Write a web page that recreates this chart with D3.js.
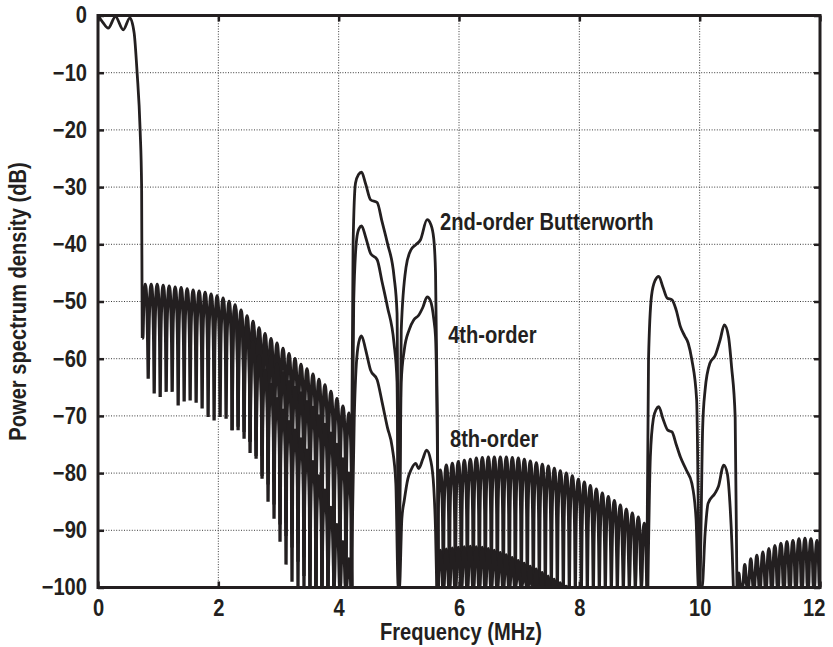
<!DOCTYPE html>
<meta charset="utf-8">
<title>Power spectrum density</title>
<style>
  body { margin: 0; background: #fff; }
  text {
    font-family: "Liberation Sans", Arial, sans-serif;
    font-weight: bold;
    fill: #231f20;
  }
</style>
<body>
  <div id="container"></div>
  <script src="https://cdn.jsdelivr.net/npm/d3@7/dist/d3.min.js"></script>
  <script>

    const width = 833;
    const height = 647;
    const ink = "#231f20";

    // axes
    const xTicks = [0, 2, 4, 6, 8, 10, 12];
    const yTicks = [0, -10, -20, -30, -40, -50, -60, -70, -80, -90, -100];

    // main lobe, same for every filter order
    const passF  = [0, 0.08, 0.17, 0.29, 0.42, 0.53, 0.6, 0.65, 0.7, 0.725, 0.735];
    const passDb = [0, -1.2, -2.2, -0.2, -2.5, -0.4, -3, -10, -20, -30, -56.4];

    // first sidelobe comb (0.735 - 4.22 MHz)
    const comb1Band = [0.735, 4.22];
    const comb1Peaks = [-47, -47, -47, -47.2, -47.3, -47.5, -47.6, -47.8, -48, -48.2,
      -48.4, -48.7, -49, -49.4, -50, -50.6, -51.5, -52.5, -53.5, -54.6,
      -55.6, -56.5, -57.3, -58.2, -59.1, -60, -61, -61.8, -62.7, -63.6,
      -64.6, -65.7, -67, -68.3, -69.5];
    const comb1Troughs = [-56.4, -63.5, -66.1, -66.7, -65.8, -65.8, -68.2, -67.5, -67.3, -67.7,
      -68.7, -70.2, -70.8, -70.2, -70.5, -72.5, -71.9, -72.8, -74.5, -74.3,
      -77, -80, -81.6, -84.8, -88.7, -90.6, -92.3, -94.7, -97, -100,
      -100, -100, -100, -100, -100, -100];

    // 4th-order lobes where they leave the 2nd-order ones
    const comb1b4Band = [2.528, 4.22];
    const comb1b4Peaks = [-54.5, -56, -57.5, -59.5, -61, -62.5, -64, -65, -66, -67.5,
      -68.5, -70, -71.5, -73, -75, -77.5, -80];
    const comb1b4Troughs = [-74.5, -77.5, -80.5, -82, -85.5, -89, -91, -93, -95.5, -98,
      -100, -100, -100, -100, -100, -100, -100, -100];

    // 8th-order lobes
    const comb1b8Band = [2.229, 4.22];
    const comb1b8Peaks = [-51, -52.5, -54.5, -57, -59.5, -62, -64.5, -67, -69, -71,
      -72.5, -74, -76, -78, -80.5, -83, -86, -89, -92, -95];
    const comb1b8Troughs = [-72.5, -72.5, -74, -76.5, -77, -81, -85, -88, -92, -96,
      -99, -100, -100, -100, -100, -100, -100, -100, -100, -100, -100];

    // first image band (4.2 - 5.66 MHz)
    const img1F2  = [4.2, 4.24, 4.28, 4.33, 4.38, 4.45, 4.53, 4.64, 4.72, 4.81, 4.92, 4.97, 5.0,
      5.04, 5.12, 5.2, 5.28, 5.36, 5.47, 5.53, 5.58, 5.61, 5.64, 5.66];
    const img1Db2 = [-100, -40, -29.3, -27.8, -27.4, -29.5, -32.2, -32.7, -36, -39.8, -45.6, -52, -100,
      -55, -44, -41, -40.1, -39.2, -35.7, -36.5, -39, -45, -70, -100];
    const img1F4  = [4.21, 4.25, 4.3, 4.34, 4.38, 4.45, 4.53, 4.64, 4.72, 4.81, 4.92, 4.97, 5.0,
      5.04, 5.09, 5.17, 5.25, 5.33, 5.4, 5.47, 5.53, 5.58, 5.61, 5.64, 5.66];
    const img1Db4 = [-100, -50, -39, -37.2, -36.8, -38.8, -41.6, -42.7, -46.5, -50.9, -57.3, -64, -100,
      -64, -58.5, -55, -53.2, -52.4, -51, -49.2, -50, -53, -56.2, -75, -100];
    const img1F8  = [4.21, 4.26, 4.3, 4.35, 4.38, 4.45, 4.53, 4.64, 4.72, 4.81, 4.89, 4.95, 4.99,
      5.01, 5.05, 5.09, 5.15, 5.2, 5.28, 5.33, 5.4, 5.46, 5.53, 5.58, 5.61, 5.63];
    const img1Db8 = [-100, -70, -60, -56.5, -56, -58.5, -62, -63.7, -67.5, -72, -75.5, -81.8, -100,
      -100, -88, -84.8, -81, -79.5, -78.3, -79.2, -77.5, -76, -77.8, -82.4, -90, -100];

    // second sidelobe comb (5.64 - 9.13 MHz), troughs on the floor
    const comb2Band = [5.64, 9.13];
    const comb2Peaks = [-79.5, -78.6, -78.3, -78, -77.8, -77.6, -77.4, -77.3, -77.2, -77.2,
      -77.2, -77.2, -77.3, -77.4, -77.6, -77.9, -78.2, -78.5, -78.8, -79.2,
      -79.6, -80, -80.5, -81.1, -81.6, -82.2, -82.8, -83.5, -84.1, -84.8,
      -85.6, -86.3, -87, -87.7, -88.8];
    const comb2bBand = [5.64, 7.83];
    const comb2bPeaks = [-93.5, -93.3, -93.1, -93, -92.9, -92.8, -92.9, -93, -93.2, -93.5,
      -93.9, -94.3, -94.8, -95.3, -95.8, -96.3, -96.8, -97.4, -98, -98.6,
      -99.2, -99.8];

    // second image band (9.12 - 10.62 MHz)
    const img2F2  = [9.12, 9.15, 9.2, 9.26, 9.32, 9.39, 9.46, 9.54, 9.61, 9.68, 9.75, 9.81, 9.87, 9.95, 10.0,
      10.05, 10.09, 10.17, 10.26, 10.34, 10.41, 10.48, 10.53, 10.59, 10.62];
    const img2Db2 = [-100, -60.2, -49, -46.3, -45.6, -47.5, -49.4, -49.7, -51.5, -54.4, -56, -57.3, -60.2, -67.2, -100,
      -72, -65.5, -60.8, -59.4, -56.7, -54.1, -56.2, -61.4, -70.2, -100];
    const img2F4  = [9.14, 9.18, 9.23, 9.28, 9.32, 9.39, 9.47, 9.54, 9.61, 9.68, 9.78, 9.87, 9.94, 9.98,
      10.04, 10.09, 10.14, 10.25, 10.31, 10.4, 10.46, 10.5, 10.54, 10.56];
    const img2Db4 = [-100, -77.2, -70.5, -68.8, -68.4, -70.5, -72.5, -72.8, -75, -77.2, -79.5, -81.8, -88, -100,
      -100, -90.6, -85.3, -83.6, -82.4, -78.6, -80.1, -84.8, -93.5, -100];

    // third sidelobe comb (10.6 - 12 MHz)
    const comb3Band = [10.6, 12];
    const comb3Peaks = [-97.5, -96, -95, -94.4, -93.8, -93.2, -92.7, -92.3, -92, -91.8,
      -91.5, -91.4, -91.5, -91.8];

    // labels
    const labels = [
      {text: "2nd-order Butterworth", f: 5.684, db: -37.5},
      {text: "4th-order", f: 5.82, db: -57.3},
      {text: "8th-order", f: 5.85, db: -75.4}
    ];

    const x = d3.scaleLinear().domain([0, 12]).range([98, 820]);
    const y = d3.scaleLinear().domain([-100, 0]).range([587.5, 15.5]);

    const svg = d3.select("#container").append("svg")
      .attr("width", width)
      .attr("height", height);

    svg.append("clipPath").attr("id", "plot")
      .append("rect")
      .attr("x", x(0)).attr("y", y(0) - 3)
      .attr("width", x(12) - x(0)).attr("height", y(-100) - y(0) + 3);

    // dotted grid
    const grid = svg.append("g")
      .attr("stroke", "#3a3a3a")
      .attr("stroke-width", 1)
      .attr("stroke-dasharray", "1,1.6");
    grid.selectAll(".gx").data(xTicks.slice(1, -1)).join("line")
      .attr("x1", d => x(d)).attr("x2", d => x(d))
      .attr("y1", y(0)).attr("y2", y(-100));
    grid.selectAll(".gy").data(yTicks.slice(1, -1)).join("line")
      .attr("x1", x(0)).attr("x2", x(12))
      .attr("y1", d => y(d)).attr("y2", d => y(d));

    const line = d3.line()
      .x(d => x(d[0]))
      .y(d => y(d[1]))
      .curve(d3.curveMonotoneX);

    // a lobe rises steeply from its troughs to a flat rounded top
    const lobeU = [0, 0.08, 0.25, 0.5, 0.75, 0.92, 1];
    const lobeDrop = [0, 10, 3, 0, 3, 10, 0];

    function combPath(band, peaks, troughs) {
      const at = d3.scaleLinear().domain([0, peaks.length]).range(band);
      let d = "";
      peaks.forEach((p, i) => {
        const tL = Array.isArray(troughs) ? troughs[i] : troughs;
        const tR = Array.isArray(troughs) ? troughs[i + 1] : troughs;
        const pts = lobeU.map((u, k) => {
          const f = at(i + u);
          if (k === 0) return [f, tL];
          if (k === lobeU.length - 1) return [f, tR];
          return [f, Math.max(p - lobeDrop[k], k < 3 ? tL : tR)];
        });
        d += line(pts);
      });
      return d;
    }

    const zip = (a, b) => a.map((v, i) => [v, b[i]]);

    const curves = svg.append("g")
      .attr("clip-path", "url(#plot)")
      .attr("fill", "none")
      .attr("stroke", ink)
      .attr("stroke-linejoin", "round");

    const smooth = [
      line(zip(passF, passDb)),
      line(zip(img1F2, img1Db2)),
      line(zip(img1F4, img1Db4)),
      line(zip(img1F8, img1Db8)),
      line(zip(img2F2, img2Db2)),
      line(zip(img2F4, img2Db4))
    ];
    const combs = [
      combPath(comb1Band, comb1Peaks, comb1Troughs),
      combPath(comb1b4Band, comb1b4Peaks, comb1b4Troughs),
      combPath(comb1b8Band, comb1b8Peaks, comb1b8Troughs),
      combPath(comb2Band, comb2Peaks, -100),
      combPath(comb2bBand, comb2bPeaks, -100),
      combPath(comb3Band, comb3Peaks, -100)
    ];
    curves.selectAll(".comb").data(combs).join("path")
      .attr("class", "comb")
      .attr("stroke-width", 3.3)
      .attr("d", d => d);
    curves.selectAll(".smooth").data(smooth).join("path")
      .attr("class", "smooth")
      .attr("stroke-width", 2.8)
      .attr("d", d => d);

    // axes with inward ticks
    const tick = 6;
    svg.append("g")
      .attr("class", "xaxis")
      .attr("transform", `translate(0,${y(-100)})`)
      .call(d3.axisBottom(x).tickValues(xTicks).tickSize(-tick).tickPadding(12).tickFormat(d3.format("d")));
    svg.append("g")
      .attr("transform", `translate(${x(0)},0)`)
      .call(d3.axisLeft(y).tickValues(yTicks).tickSize(-tick).tickPadding(11).tickFormat(d3.format("d")));
    svg.append("g")
      .attr("transform", `translate(0,${y(0)})`)
      .call(d3.axisTop(x).tickValues(xTicks).tickSize(-tick).tickFormat(""));
    svg.append("g")
      .attr("transform", `translate(${x(12)},0)`)
      .call(d3.axisRight(y).tickValues(yTicks).tickSize(-tick).tickFormat(""));

    svg.selectAll(".domain").remove();
    svg.selectAll(".tick line").attr("stroke", ink).attr("stroke-width", 2.5);
    svg.selectAll(".tick text")
      .attr("font-size", 23)
      .attr("font-family", null)
      .attr("fill", ink);
    // the last x label sits just inside the frame edge
    svg.selectAll(".xaxis .tick text").filter(d => d === 12)
      .attr("text-anchor", "end").attr("x", 5);

    svg.append("rect")
      .attr("x", x(0)).attr("y", y(0))
      .attr("width", x(12) - x(0)).attr("height", y(-100) - y(0))
      .attr("fill", "none")
      .attr("stroke", ink)
      .attr("stroke-width", 3);

    // curve labels
    svg.selectAll(".lbl").data(labels).join("text")
      .attr("x", d => x(d.f))
      .attr("y", d => y(d.db))
      .attr("font-size", 23)
      .text(d => d.text);

    // axis titles
    svg.append("text")
      .attr("x", 461).attr("y", 640)
      .attr("text-anchor", "middle")
      .attr("font-size", 23)
      .text("Frequency (MHz)");
    svg.append("text")
      .attr("transform", `translate(26,${(y(0) + y(-100)) / 2}) rotate(-90)`)
      .attr("text-anchor", "middle")
      .attr("font-size", 23)
      .text("Power spectrum density (dB)");

    // the original face is a condensed one: squeeze every text a little
    svg.selectAll("text").each(function() {
      const w = this.getComputedTextLength();
      d3.select(this)
        .attr("textLength", w * 0.875)
        .attr("lengthAdjust", "spacingAndGlyphs");
    });
  </script>
</body>
